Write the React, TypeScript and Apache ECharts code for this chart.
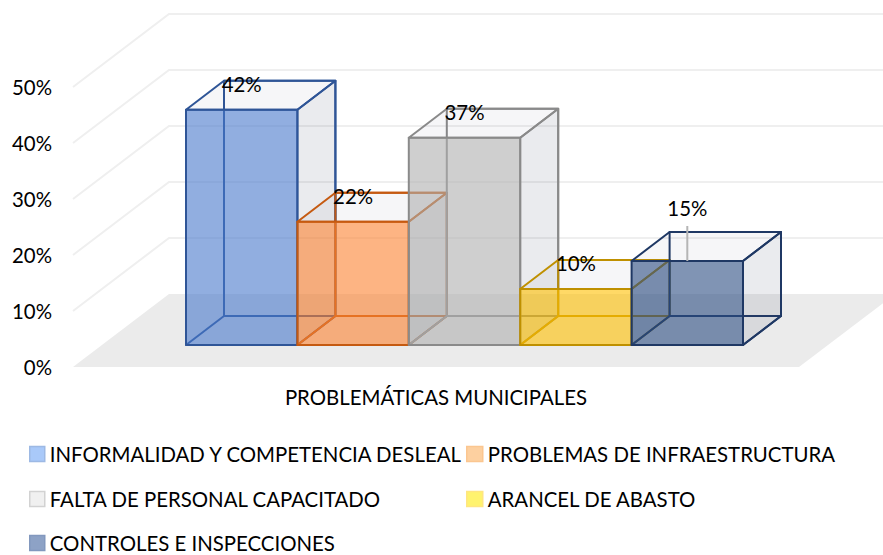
import React, { useEffect, useRef } from "react";
import * as echarts from "echarts";

const categories = [
  "INFORMALIDAD Y COMPETENCIA DESLEAL",
  "PROBLEMAS DE INFRAESTRUCTURA",
  "FALTA DE PERSONAL CAPACITADO",
  "ARANCEL DE ABASTO",
  "CONTROLES E INSPECCIONES",
];
const values = [42, 22, 37, 10, 15];
const gridTicks = [10, 20, 30, 40, 50];
const axisTitle = "PROBLEMÁTICAS MUNICIPALES";

const faceColors = ["72,120,204", "251,130,48", "175,175,175", "255,192,0", "44,76,130"];
const edgeColors = ["#2F5597", "#C55A11", "#8A8A8A", "#BF9000", "#1F3864"];
const legendFills = ["#A9C9F9", "#FDD0A0", "#F0F0F0", "#FFF36E", "#8DA2C6"];
const legendEdges = ["#9DB9E4", "#FBC690", "#D2D2D2", "#FFE680", "#8298BE"];
const legendSpots = [
  [29, 444, 15],
  [466, 444, 16],
  [29, 489, 15],
  [466, 489, 16],
  [29, 533, 15],
];

const FONT = "Lato, 'Open Sans', sans-serif";
const FONT_SIZE = 20.4;
const BOX_DX = 38;
const BOX_DY = -29;
const WALL_DX = 96;
const WALL_DY = -73;
const LEADER_INDEX = 4;

const poly = (points: number[][], style: any) => ({ type: "polygon", shape: { points }, style });

export default function App() {
  const ref = useRef<HTMLDivElement>(null);
  useEffect(() => {
    const chart = echarts.init(ref.current!, undefined, { renderer: "svg" });

    const barSeries = categories.map((name, i) => ({
      name,
      type: "custom",
      coordinateSystem: "cartesian2d",
      xAxisIndex: 1,
      yAxisIndex: 1,
      itemStyle: { color: legendFills[i] },
      data: [[i, values[i]]],
      renderItem: (_p: any, api: any) => {
        const idx = api.value(0);
        const top = api.coord([idx, api.value(1)]);
        const base = api.coord([idx, 0]);
        const w = api.size([1, 0])[0];
        const x0 = top[0] - w / 2;
        const x1 = top[0] + w / 2;
        const yT = top[1];
        const yB = base[1];
        const rgb = faceColors[i];
        const edge = edgeColors[i];
        const line = { stroke: edge, lineWidth: 2, lineJoin: "round" };
        const back = (x: number, y: number) => [x + BOX_DX, y + BOX_DY];
        return {
          type: "group",
          children: [
            // floor of the box
            poly([[x0, yB], [x1, yB], back(x1, yB), back(x0, yB)], { fill: "none", ...line }),
            // back face
            poly([back(x0, yT), back(x1, yT), back(x1, yB), back(x0, yB)], { fill: "none", ...line }),
            // top face
            poly([[x0, yT], [x1, yT], back(x1, yT), back(x0, yT)], { fill: "rgba(70,80,110,0.05)", ...line }),
            // right face
            poly([[x1, yT], back(x1, yT), back(x1, yB), [x1, yB]], { fill: "rgba(60,70,100,0.11)", ...line }),
            // front face
            poly([[x0, yT], [x1, yT], [x1, yB], [x0, yB]], { fill: `rgba(${rgb},0.6)`, ...line }),
          ],
        };
      },
    }));

    const option: any = {
      animation: false,
      backgroundColor: "#ffffff",
      textStyle: { fontFamily: FONT },
      legend: categories.map((name, i) => ({
        left: legendSpots[i][0],
        top: legendSpots[i][1],
        padding: 0,
        itemWidth: legendSpots[i][2],
        itemHeight: 15,
        selectedMode: false,
        icon: "rect",
        textStyle: { fontSize: FONT_SIZE, color: "#000", fontFamily: FONT },
        data: [{ name, itemStyle: { color: legendFills[i], borderColor: legendEdges[i], borderWidth: 1.5 } }],
      })),
      grid: [
        { left: 73, width: 726, top: 87, height: 280 },
        { left: 186, width: 557, top: 65, height: 280 },
      ],
      xAxis: [
        {
          gridIndex: 0,
          type: "value",
          min: 0,
          max: 1,
          name: axisTitle,
          nameLocation: "middle",
          nameGap: 20,
          nameTextStyle: { fontSize: FONT_SIZE, color: "#000", fontFamily: FONT },
          axisLine: { show: false },
          axisTick: { show: false },
          axisLabel: { show: false },
          splitLine: { show: false },
        },
        {
          gridIndex: 1,
          type: "category",
          data: categories,
          axisLine: { show: false },
          axisTick: { show: false },
          axisLabel: { show: false },
          splitLine: { show: false },
        },
      ],
      yAxis: [
        {
          gridIndex: 0,
          type: "value",
          min: 0,
          max: 50,
          interval: 10,
          axisLine: { show: false },
          axisTick: { show: false },
          splitLine: { show: false },
          axisLabel: { formatter: "{value}%", fontSize: FONT_SIZE, color: "#000", margin: 21, fontFamily: FONT },
        },
        {
          gridIndex: 1,
          type: "value",
          min: 0,
          max: 50,
          interval: 10,
          axisLine: { show: false },
          axisTick: { show: false },
          axisLabel: { show: false },
          splitLine: { show: false },
        },
      ],
      series: [
        {
          type: "custom",
          coordinateSystem: "cartesian2d",
          xAxisIndex: 0,
          yAxisIndex: 0,
          silent: true,
          data: gridTicks.map((t) => [0, t]),
          renderItem: (_p: any, api: any) => {
            const s = api.coord([0, api.value(1)]);
            return {
              type: "polyline",
              shape: { points: [s, [s[0] + WALL_DX, s[1] + WALL_DY], [api.getWidth(), s[1] + WALL_DY]] },
              style: { stroke: "#EFEFEF", lineWidth: 2, fill: "none" },
            };
          },
        },
        {
          type: "custom",
          coordinateSystem: "cartesian2d",
          xAxisIndex: 0,
          yAxisIndex: 0,
          silent: true,
          data: [[0, 0]],
          renderItem: (_p: any, api: any) => {
            const a = api.coord([0, 0]);
            const b = api.coord([1, 0]);
            return poly(
              [a, [a[0] + WALL_DX, a[1] + WALL_DY], [b[0] + WALL_DX, b[1] + WALL_DY], b],
              { fill: "#EBEBEB", stroke: "none" }
            );
          },
        },
        ...barSeries,
        {
          type: "custom",
          coordinateSystem: "cartesian2d",
          xAxisIndex: 1,
          yAxisIndex: 1,
          silent: true,
          data: values.map((v, i) => [i, v]),
          renderItem: (_p: any, api: any) => {
            const i = api.value(0);
            const p = api.coord([i, api.value(1)]);
            const lifted = i === LEADER_INDEX;
            const children: any[] = [];
            if (lifted) {
              children.push({
                type: "line",
                shape: { x1: p[0], y1: p[1], x2: p[0], y2: p[1] - 35 },
                style: { stroke: "#B5B5B5", lineWidth: 2 },
              });
            }
            children.push({
              type: "text",
              x: p[0],
              y: p[1] - (lifted ? 53 : 26),
              style: {
                text: `${api.value(1)}%`,
                fontSize: FONT_SIZE,
                fontFamily: FONT,
                fill: "#000",
                align: "center",
                verticalAlign: "middle",
              },
            });
            return { type: "group", children };
          },
        },
      ],
    };
    chart.setOption(option);
    return () => chart.dispose();
  }, []);
  return <div ref={ref} style={{ position: "fixed", left: 0, top: 0, width: 883, height: 555 }} />;
}
